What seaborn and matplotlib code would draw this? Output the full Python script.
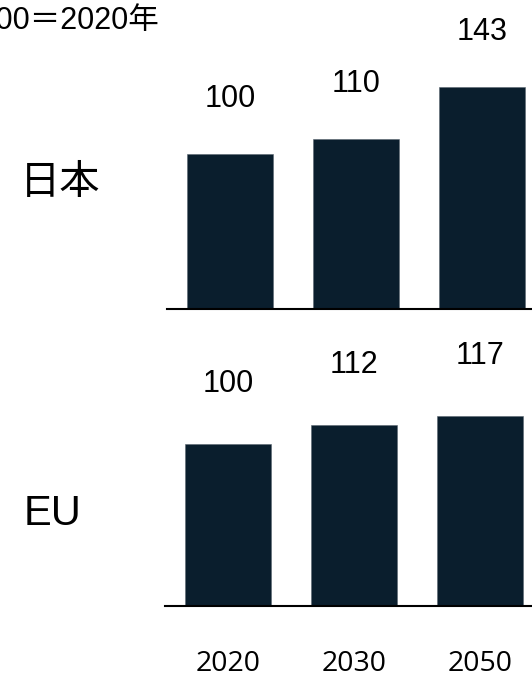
import matplotlib
matplotlib.use("Agg")
import matplotlib.pyplot as plt
import seaborn as sns
import pandas as pd

# =====================================================
# Data
# =====================================================

years = ["2020", "2030", "2050"]
japan_values = [100, 110, 143]
eu_values = [100, 112, 117]
region_labels = ["日本", "EU"]
header_text = "指数：100＝2020年"

bar_color = "#0A1E2D"

sns.set_theme(style="white")
plt.rcParams["font.family"] = ["Liberation Sans", "Noto Sans CJK JP", "DejaVu Sans"]
plt.rcParams["text.color"] = "black"

W, H = 532, 679
fig = plt.figure(figsize=(W / 100, H / 100), dpi=100)


def px_axes(left, baseline, top, width):
    # convert pixel box (from top-left) to figure fraction
    return fig.add_axes([left / W, (H - baseline) / H, width / W, (baseline - top) / H])


# =====================================================
# Panels
# =====================================================

panels = [
    # values, left px, baseline px, top px, px per unit, label offset px
    (japan_values, 167, 309, 0, 1.55, 55),
    (eu_values, 165, 606, 330, 1.62, 60),
]

axes = []
for values, left, base, top, scale, offset in panels:
    ax = px_axes(left, base, top, 378)
    df = pd.DataFrame({"year": years, "value": values})
    sns.barplot(
        data=df,
        x="year",
        y="value",
        color=bar_color,
        width=0.69,
        saturation=1,
        edgecolor="#5a6670",
        linewidth=0.4,
        ax=ax,
    )
    ax.set_xlim(-0.5, 2.5)
    ax.set_ylim(0, (base - top) / scale)
    for i, v in enumerate(values):
        ax.annotate(
            str(v),
            xy=(i, v),
            xytext=(0, offset * 0.72),
            textcoords="offset points",
            ha="center",
            va="center",
            fontsize=22,
            color="black",
            family="Liberation Sans",
        )
    for side in ["top", "left", "right"]:
        ax.spines[side].set_visible(False)
    ax.spines["bottom"].set_color("black")
    ax.spines["bottom"].set_linewidth(1.5)
    ax.set_yticks([])
    ax.set_xlabel("")
    ax.set_ylabel("")
    ax.patch.set_alpha(0)
    axes.append(ax)

axes[0].set_xticks([])
axes[1].set_xticks(
    range(len(years)),
    years,
    fontsize=20.5,
    color="black",
    fontfamily="Open Sans",
)
axes[1].tick_params(axis="x", length=0, pad=32)

# =====================================================
# Text
# =====================================================

fig.text(60 / W, 1 - 183 / H, region_labels[0], ha="center", va="center",
         fontsize=29, color="black", family=["Noto Sans CJK JP", "DejaVu Sans"])
fig.text(53 / W, 1 - 514 / H, region_labels[1], ha="center", va="center",
         fontsize=30, color="black", family="Liberation Sans")
fig.text(159 / W, 1 - 20 / H, header_text, ha="right", va="center",
         fontsize=22, color="black", family=["Liberation Sans", "Noto Sans CJK JP"])

plt.savefig("out.png", dpi=100)
plt.close()
